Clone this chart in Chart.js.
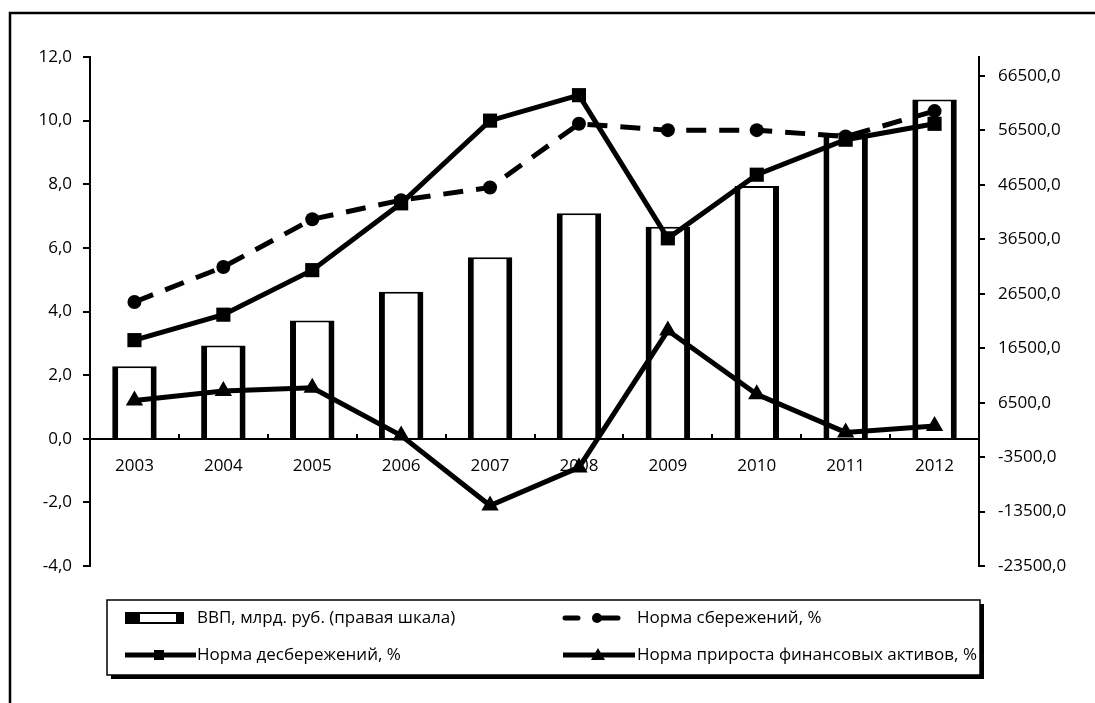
<!DOCTYPE html>
<html lang="ru">
<head>
<meta charset="utf-8">
<title>ВВП и нормы сбережений</title>
<script src="https://cdn.jsdelivr.net/npm/chart.js@4.4.1/dist/chart.umd.min.js"></script>
<style>
    html, body { margin: 0; padding: 0; background: #fff; }
    #wrap { position: relative; width: 1095px; height: 703px; }
</style>
</head>
<body>
<div id="wrap"><canvas id="chart" width="1095" height="703"></canvas></div>
<script>
// ============================================================
// DATOS
// ============================================================

const years = ['2003', '2004', '2005', '2006', '2007', '2008', '2009', '2010', '2011', '2012'];

// ВВП, млрд. руб. (правая шкала)
const gdp = [13200, 17000, 21600, 26900, 33200, 41300, 38800, 46300, 56000, 62200];

// Норма сбережений, %
const savingsRate = [4.3, 5.4, 6.9, 7.5, 7.9, 9.9, 9.7, 9.7, 9.5, 10.3];

// Норма десбережений, %
const dissavingsRate = [3.1, 3.9, 5.3, 7.4, 10.0, 10.8, 6.3, 8.3, 9.4, 9.9];

// Норма прироста финансовых активов, %
const finAssetsRate = [1.2, 1.5, 1.6, 0.1, -2.1, -0.9, 3.4, 1.4, 0.2, 0.4];

const leftTicks = [-4, -2, 0, 2, 4, 6, 8, 10, 12];
const rightTicks = [-23500, -13500, -3500, 6500, 16500, 26500, 36500, 46500, 56500, 66500];

const labels = {
    gdp: 'ВВП, млрд. руб. (правая шкала)',
    savings: 'Норма сбережений, %',
    dissavings: 'Норма десбережений, %',
    finAssets: 'Норма прироста финансовых активов, %'
};

// ============================================================
// ESTILO
// ============================================================

const FONT = 'Open Sans';
const FONT_SIZE = 17;

Chart.defaults.font.family = FONT;
Chart.defaults.font.size = FONT_SIZE;
Chart.defaults.color = '#000';

function fmt(v) {
    return v.toFixed(1).replace('.', ',');
}

// marco exterior (solo borde izquierdo y superior visibles)
const framePlugin = {
    id: 'frame',
    beforeDraw(chart) {
        const ctx = chart.ctx;
        ctx.save();
        ctx.strokeStyle = '#000';
        ctx.lineWidth = 2.5;
        ctx.beginPath();
        ctx.moveTo(10, 710);
        ctx.lineTo(10, 13);
        ctx.lineTo(1100, 13);
        ctx.stroke();
        ctx.restore();
    }
};

// leyenda dibujada a mano
const legendPlugin = {
    id: 'customLegend',
    afterDraw(chart) {
        const ctx = chart.ctx;
        const box = { x: 107, y: 600, w: 873, h: 75 };
        ctx.save();

        // sombra
        ctx.fillStyle = '#000';
        ctx.fillRect(box.x + 4, box.y + 4, box.w, box.h);
        ctx.fillStyle = '#fff';
        ctx.fillRect(box.x, box.y, box.w, box.h);
        ctx.strokeStyle = '#000';
        ctx.lineWidth = 1.5;
        ctx.strokeRect(box.x, box.y, box.w, box.h);

        const row1 = 618;
        const row2 = 655;

        // ВВП - barra
        ctx.fillStyle = '#000';
        ctx.fillRect(125, row1 - 6, 59, 12);
        ctx.fillStyle = '#fff';
        ctx.fillRect(140, row1 - 4, 36, 8);

        // десбережений - linea con cuadrado
        ctx.strokeStyle = '#000';
        ctx.lineWidth = 5;
        ctx.beginPath();
        ctx.moveTo(125, row2);
        ctx.lineTo(196, row2);
        ctx.stroke();
        ctx.fillStyle = '#000';
        ctx.fillRect(154, row2 - 5, 10, 10);

        // сбережений - discontinua con circulo
        ctx.lineCap = 'round';
        ctx.beginPath();
        ctx.moveTo(565, row1);
        ctx.lineTo(578, row1);
        ctx.moveTo(597, row1);
        ctx.lineTo(618, row1);
        ctx.stroke();
        ctx.beginPath();
        ctx.arc(597, row1, 5, 0, Math.PI * 2);
        ctx.fill();

        // финансовых активов - linea con triangulo
        ctx.lineCap = 'butt';
        ctx.beginPath();
        ctx.moveTo(563, row2);
        ctx.lineTo(635, row2);
        ctx.stroke();
        ctx.beginPath();
        ctx.moveTo(598, row2 - 7);
        ctx.lineTo(605, row2 + 5);
        ctx.lineTo(591, row2 + 5);
        ctx.closePath();
        ctx.fill();

        // textos
        ctx.fillStyle = '#000';
        ctx.font = FONT_SIZE + 'px "' + FONT + '"';
        ctx.textBaseline = 'middle';
        ctx.textAlign = 'left';
        ctx.fillText(labels.gdp, 197, row1);
        ctx.fillText(labels.dissavings, 197, row2);
        ctx.fillText(labels.savings, 637, row1);
        ctx.fillText(labels.finAssets, 637, row2);

        ctx.restore();
    }
};

// ============================================================
// GRAFICO
// ============================================================

const chart = new Chart(document.getElementById('chart'), {
    type: 'bar',
    data: {
        labels: years,
        datasets: [
            {
                type: 'line',
                label: labels.savings,
                data: savingsRate,
                yAxisID: 'y',
                order: 1,
                borderColor: '#000',
                backgroundColor: '#000',
                borderWidth: 5,
                borderDash: [20, 13],
                pointStyle: 'circle',
                pointRadius: 7,
                pointBorderWidth: 0,
                tension: 0
            },
            {
                type: 'line',
                label: labels.dissavings,
                data: dissavingsRate,
                yAxisID: 'y',
                order: 1,
                borderColor: '#000',
                backgroundColor: '#000',
                borderWidth: 5,
                pointStyle: 'rect',
                pointRadius: 10,
                pointBorderWidth: 0,
                tension: 0
            },
            {
                type: 'line',
                label: labels.finAssets,
                data: finAssetsRate,
                yAxisID: 'y',
                order: 1,
                borderColor: '#000',
                backgroundColor: '#000',
                borderWidth: 5,
                pointStyle: 'triangle',
                pointRadius: 10,
                pointBorderWidth: 0,
                tension: 0
            },
            {
                type: 'bar',
                label: labels.gdp,
                data: gdp,
                yAxisID: 'y1',
                order: 2,
                backgroundColor: '#fff',
                borderColor: '#000',
                borderWidth: { top: 2, left: 6, right: 6, bottom: 0 },
                borderSkipped: 'bottom',
                categoryPercentage: 1,
                barPercentage: 0.5
            }
        ]
    },
    options: {
        responsive: false,
        animation: false,
        layout: { padding: { top: 57, bottom: 137, left: 0, right: 0 } },
        plugins: {
            legend: { display: false },
            tooltip: { enabled: false }
        },
        scales: {
            x: {
                type: 'category',
                position: { y: 0 },
                offset: true,
                grid: {
                    offset: true,
                    drawOnChartArea: false,
                    tickLength: -6,
                    color: '#000',
                    lineWidth: 2
                },
                border: { color: '#000', width: 2 },
                ticks: { padding: 23, maxRotation: 0, autoSkip: false }
            },
            y: {
                position: 'left',
                min: -4,
                max: 12,
                afterBuildTicks: (scale) => {
                    scale.ticks = leftTicks.map(v => ({ value: v }));
                },
                afterFit: (scale) => { scale.width = 90; },
                grid: {
                    drawOnChartArea: false,
                    tickLength: 7,
                    color: '#000',
                    lineWidth: 2
                },
                border: { color: '#000', width: 2 },
                ticks: { padding: 11, callback: (v) => fmt(v) }
            },
            y1: {
                position: 'right',
                min: -23500,
                max: 70000,
                afterBuildTicks: (scale) => {
                    scale.ticks = rightTicks.map(v => ({ value: v }));
                },
                afterFit: (scale) => { scale.width = 116; },
                grid: {
                    drawOnChartArea: false,
                    tickLength: 6,
                    color: '#000',
                    lineWidth: 2
                },
                border: { color: '#000', width: 2 },
                ticks: { padding: 13, callback: (v) => fmt(v) }
            }
        }
    },
    plugins: [framePlugin, legendPlugin]
});

console.log('chart area', chart.chartArea);
</script>
</body>
</html>
